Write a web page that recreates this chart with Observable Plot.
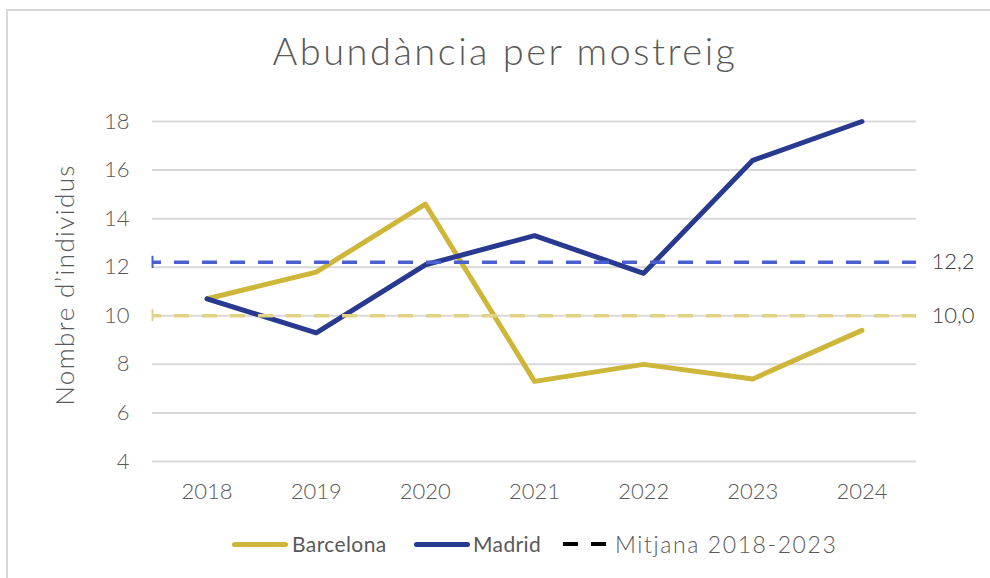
<!DOCTYPE html>
<html><head><meta charset="utf-8">
<script src="https://cdn.jsdelivr.net/npm/d3@7"></script>
<script src="https://cdn.jsdelivr.net/npm/@observablehq/plot@0.6"></script>
<style>
body{margin:0;background:#fff;}
#wrap{position:relative;width:990px;height:578px;overflow:hidden;font-family:Lato,sans-serif;color:#595959;}
#frame{position:absolute;left:6px;top:9px;width:1200px;height:800px;border-top:2px solid #d9d9d9;border-left:2px solid #d9d9d9;}
#title{position:absolute;left:0;width:1010px;top:31px;text-align:center;font-size:38px;line-height:38px;font-weight:300;letter-spacing:2.5px;white-space:nowrap;}
#chart{position:absolute;left:0;top:90px;}
#ylabel{position:absolute;left:64px;top:285px;transform:translate(-50%,-50%) rotate(-90deg);font-size:26px;font-weight:300;white-space:nowrap;letter-spacing:1.4px;}
.sw{position:absolute;height:5px;border-radius:3px;top:542px;}
.lt{position:absolute;top:531px;font-size:21px;line-height:26px;white-space:nowrap;}
</style></head>
<body>
<div id="wrap">
  <div id="frame"></div>
  <div id="title"></div>
  <div id="ylabel"></div>
  <div id="chart"></div>
  <div id="legend"></div>
</div>
<script>
const titleText = "Abundància per mostreig";
const yLabel = "Nombre d’individus";
const years = [2018, 2019, 2020, 2021, 2022, 2023, 2024];
const barcelona = [10.7, 11.8, 14.6, 7.3, 8.0, 7.4, 9.4];
const madrid = [10.7, 9.3, 12.1, 13.3, 11.75, 16.4, 18.0];
const meanSeries = ["Madrid", "Barcelona"];
const meanValues = [12.2, 10.0];
const meanLabels = ["12,2", "10,0"];
const yTicks = [4, 6, 8, 10, 12, 14, 16, 18];
const legendLabels = ["Barcelona", "Madrid", "Mitjana 2018-2023"];

const colors = {Barcelona: "#CDB63A", Madrid: "#283A8F"};
const meanColors = {Madrid: "#4B5FD1", Barcelona: "#E0D386"};

document.getElementById("title").textContent = titleText;
document.getElementById("ylabel").textContent = yLabel;

const bcn = years.map((y, i) => ({year: y, v: barcelona[i]}));
const mad = years.map((y, i) => ({year: y, v: madrid[i]}));
const means = meanSeries.map((s, i) => ({series: s, v: meanValues[i], label: meanLabels[i]}));
const x0 = 2017.5, x1 = 2024.5;

const chart = Plot.plot({
  width: 990, height: 425,
  marginLeft: 152, marginRight: 74, marginTop: 31, marginBottom: 54,
  style: {fontFamily: "Lato, sans-serif", fontSize: "22px", color: "#595959", background: "transparent"},
  x: {type: "linear", domain: [x0, x1]},
  y: {domain: [4, 18]},
  marks: [
    Plot.gridY(yTicks, {stroke: "#d9d9d9", strokeOpacity: 1, strokeWidth: 2}),
    Plot.axisX(years, {tickSize: 0, tickPadding: 22, tickFormat: d => String(d), label: null, fontSize: 22, fontWeight: 300, letterSpacing: 0.5}),
    Plot.axisY(yTicks, {tickSize: 0, tickPadding: 23, label: null, fontSize: 22, fontWeight: 300}),
    Plot.line(bcn, {x: "year", y: "v", stroke: colors.Barcelona, strokeWidth: 5, strokeLinecap: "round", strokeLinejoin: "round"}),
    Plot.line(mad, {x: "year", y: "v", stroke: colors.Madrid, strokeWidth: 5, strokeLinecap: "round", strokeLinejoin: "round"}),
    Plot.ruleY(means, {y: "v", x1: x0, x2: x1, stroke: d => meanColors[d.series], strokeWidth: 3.5, strokeDasharray: "15,13", strokeDashoffset: 6}),
    Plot.ruleX(means, {x: x0, y1: d => d.v - 0.25, y2: d => d.v + 0.25, stroke: d => meanColors[d.series], strokeWidth: 2}),
    Plot.text(means, {x: x1, y: "v", text: "label", dx: 15, textAnchor: "start", fontSize: 22, fontWeight: 300, fill: "#404040"})
  ]
});
document.getElementById("chart").appendChild(chart);

// legend
const lg = document.getElementById("legend");
function add(html){ lg.insertAdjacentHTML("beforeend", html); }
add(`<div class="sw" style="left:232px;width:56px;background:${colors.Barcelona}"></div>`);
add(`<div class="lt" style="left:292px;letter-spacing:0.4px">${legendLabels[0]}</div>`);
add(`<div class="sw" style="left:414px;width:56px;background:${colors.Madrid}"></div>`);
add(`<div class="lt" style="left:473px;letter-spacing:0.4px">${legendLabels[1]}</div>`);
add(`<div class="sw" style="left:563px;width:15px;background:#000;border-radius:0;height:4px"></div>`);
add(`<div class="sw" style="left:591px;width:15px;background:#000;border-radius:0;height:4px"></div>`);
add(`<div class="lt" style="left:615px;font-weight:300;font-size:23px;letter-spacing:1.6px">${legendLabels[2]}</div>`);
</script>
</body></html>
